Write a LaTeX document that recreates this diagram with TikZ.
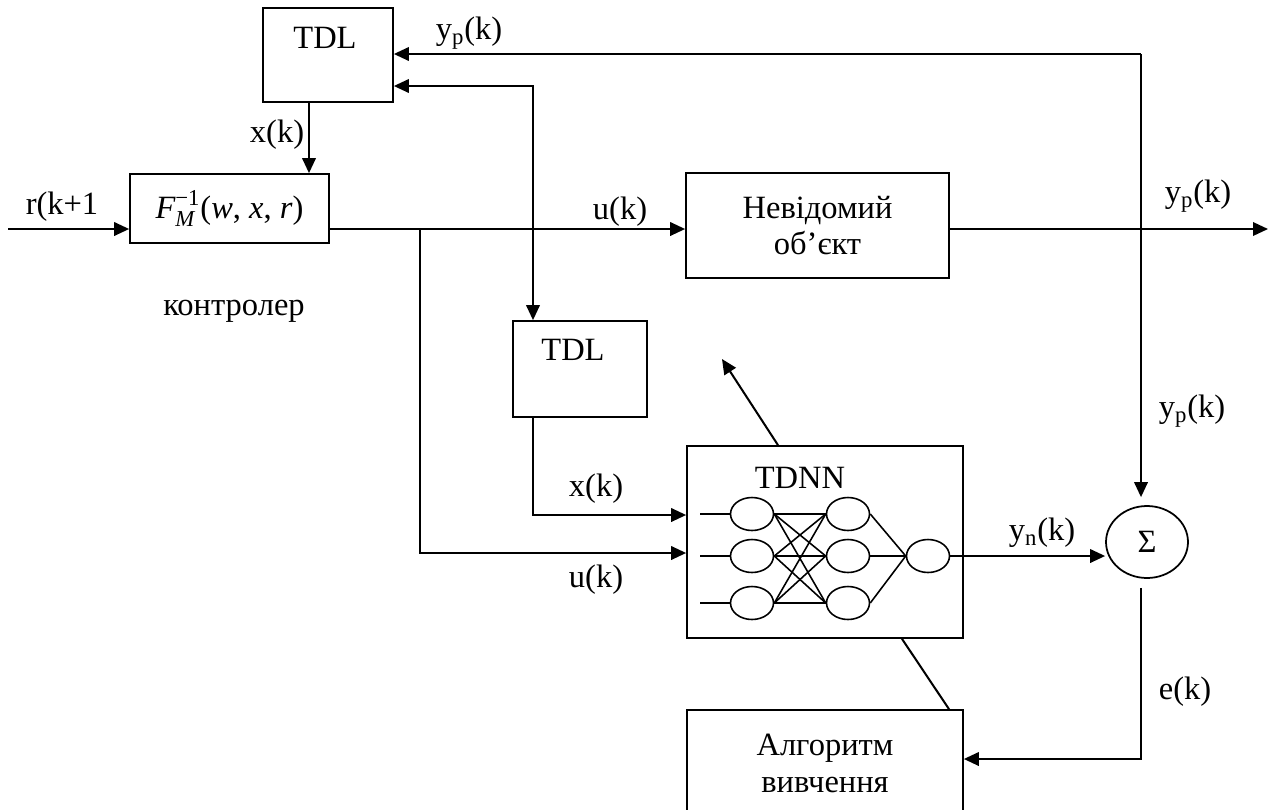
\documentclass[tikz,border=0pt]{standalone}
\usepackage{amsmath}
\usepackage{fontspec}
\setmainfont{Liberation Serif}
\usetikzlibrary{arrows.meta,shapes.geometric,calc}
\begin{document}
\begin{tikzpicture}[x=0.02cm,y=-0.02cm,
  >={Triangle[length=0.3cm,width=0.27cm]},
  every node/.style={font=\fontsize{18.5}{23}\selectfont},
  box/.style={draw,line width=1pt,rectangle,inner sep=0pt},
  conn/.style={line width=1.15pt},
  neuron/.style={draw,ellipse,line width=0.9pt,minimum width=0.86cm,minimum height=0.66cm,inner sep=0pt},
  nline/.style={line width=0.9pt},
  lbl/.style={inner sep=1pt}]
\useasboundingbox (0,0) rectangle (1269,809);
% boxes
\node[box,minimum width=2.6cm,minimum height=1.88cm] (tdl1) at (328,55) {};
\node[lbl] (tdl1t) at (325,38) {TDL};
\node[box,minimum width=3.98cm,minimum height=1.38cm] (ctrl) at (229.5,208.5) {$\textit{F}_{\textit{M}}^{\text{−1}}$(\textit{w}, \textit{x}, \textit{r})};
\node[box,minimum width=5.26cm,minimum height=2.1cm,align=center] (plant) at (817.5,225.5) {Невідомий\\[-2pt]об’єкт};
\node[box,minimum width=2.68cm,minimum height=1.92cm] (tdl2) at (580,369) {};
\node[lbl] (tdl2t) at (573,350) {TDL};
\node[box,minimum width=5.52cm,minimum height=3.84cm] (tdnn) at (825,542) {};
\node[lbl] (tdnnt) at (800,478) {TDNN};
\node[draw,ellipse,line width=1pt,minimum width=1.64cm,minimum height=1.44cm,inner sep=0pt] (sum) at (1147,542) {Σ};
\node[box,minimum width=5.52cm,minimum height=2.14cm,align=center] (algo) at (825,763.5) {Алгоритм\\[-2pt]вивчення};
% neurons
\node[neuron] (n11) at (752,514) {};
\node[neuron] (n12) at (752,556) {};
\node[neuron] (n13) at (752,603) {};
\node[neuron] (n21) at (848,514) {};
\node[neuron] (n22) at (848,556) {};
\node[neuron] (n23) at (848,603) {};
\node[neuron] (on) at (928,556) {};
\coordinate (i1) at (700,514);
\coordinate (i2) at (700,556);
\coordinate (i3) at (700,603);
\draw[nline] (i1) -- (n11.west);
\draw[nline] (i2) -- (n12.west);
\draw[nline] (i3) -- (n13.west);
\foreach \a in {1,2,3}{
  \foreach \b in {1,2,3}{
    \draw[nline] (n1\a.east) -- (n2\b.west);
  }
  \draw[nline] (n2\a.east) -- (on.west);
}
% coordinates
\coordinate (yU) at (0,229);
\coordinate (yTop) at (0,54);
\coordinate (y86) at (0,86);
\coordinate (yXn) at (0,515);
\coordinate (yUn) at (0,553);
\coordinate (yE) at (0,759);
\coordinate (xK) at (309,0);
\coordinate (xB) at (420,0);
\coordinate (xT) at (533,0);
\coordinate (xS) at (1141,0);
\coordinate (rin) at (8,229);
\coordinate (yout) at (1268,229);
\coordinate (topc) at (1141,54);
\coordinate (dA) at (949,0);
\coordinate (dB) at (902,0);
\coordinate (dC) at (778,0);
\coordinate (dD) at (722,359);
% connectors
\draw[conn,->] (rin) -- (ctrl.west |- rin);
\draw[conn,->] (tdl1.south -| xK) -- (ctrl.north -| xK);
\draw[conn,->] (ctrl.east |- yU) -- (plant.west |- yU);
\draw[conn,->] (xB |- yU) -- (xB |- yUn) -- (tdnn.west |- yUn);
\draw[conn,<->] (tdl1.east |- y86) -| (tdl2.north -| xT);
\draw[conn,->] (tdl2.south -| xT) |- (tdnn.west |- yXn);
\draw[conn,->] (plant.east |- yU) -- (yout);
\draw[conn,->] (topc) -- (tdl1.east |- topc);
\draw[conn,->,shorten >=0.16cm] (topc) -- (xS |- sum.north);
\draw[conn,->] (on.east) -- (on.east -| sum.west);
\draw[conn,->,shorten <=0.18cm] (xS |- sum.south) |- (algo.east |- yE);
\draw[conn] (algo.north -| dA) -- (tdnn.south -| dB);
\draw[conn,->] (tdnn.north -| dC) -- (dD);
% labels
\node[lbl] (lyp1) at (469,33) {y\textsubscript{p}(k)};
\node[lbl] (lxk1) at (277,135) {x(k)};
\node[lbl] (lr) at (62,207) {r(k+1};
\node[lbl] (lu1) at (620,212) {u(k)};
\node[lbl] (lyp2) at (1198,196) {y\textsubscript{p}(k)};
\node[lbl] (lctl) at (234,311) {контролер};
\node[lbl] (lyp3) at (1192,411) {y\textsubscript{p}(k)};
\node[lbl] (lxk2) at (596,489) {x(k)};
\node[lbl] (lu2) at (596,580) {u(k)};
\node[lbl] (lyn) at (1042,533) {y\textsubscript{n}(k)};
\node[lbl] (le) at (1185,692) {e(k)};
\end{tikzpicture}
\end{document}
